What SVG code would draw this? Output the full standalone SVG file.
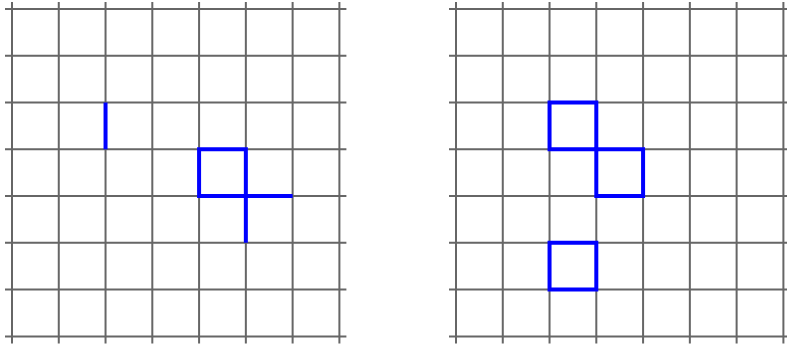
<svg xmlns="http://www.w3.org/2000/svg" width="787" height="345" viewBox="0 0 787 345">
<style>
.g{stroke:#666;stroke-width:2;fill:none}
.b{stroke:#0000ff;stroke-width:4;fill:none;stroke-linecap:butt;stroke-linejoin:miter}
</style>
<defs>
<g id="grid">
<path class="g" d="M0,-7V334.4M46.77,-7V334.4M93.54,-7V334.4M140.31,-7V334.4M187.08,-7V334.4M233.85,-7V334.4M280.62,-7V334.4M327.4,-7V334.4M-7,0H334.4M-7,46.77H334.4M-7,93.54H334.4M-7,140.31H334.4M-7,187.08H334.4M-7,233.85H334.4M-7,280.62H334.4M-7,327.4H334.4"/>
</g>
</defs>
<rect width="787" height="345" fill="#fff"/>
<g id="left" transform="translate(12,9)">
<use href="#grid"/>
<path class="b" d="M93.54,93.54V140.31"/>
<path class="b" d="M187.08,140.31H233.85V187.08H187.08Z"/>
<path class="b" d="M233.85,187.08H280.62M233.85,187.08V233.85"/>
</g>
<g id="right" transform="translate(456,9)">
<use href="#grid"/>
<path class="b" d="M93.54,93.54H140.31V140.31H93.54Z"/>
<path class="b" d="M140.31,140.31H187.08V187.08H140.31Z"/>
<path class="b" d="M93.54,233.85H140.31V280.62H93.54Z"/>
</g>
</svg>
